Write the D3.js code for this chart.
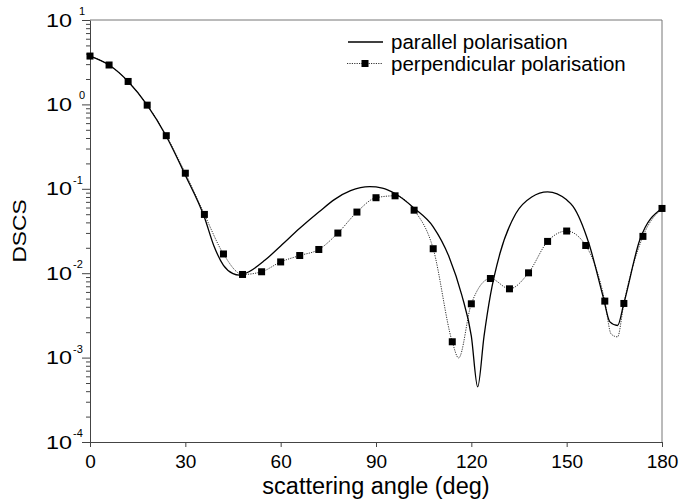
<!DOCTYPE html>
<html>
<head>
<meta charset="utf-8">
<script src="https://cdn.jsdelivr.net/npm/d3@7"></script>
<style>
  body { margin: 0; background: #fff; }
  text { font-family: "Liberation Sans", Arial, sans-serif; fill: #000; }
</style>
</head>
<body>
<div id="chart"></div>
<script>
// data
var parAngles = [0, 6, 12, 18, 24, 30, 36, 39, 42, 45, 47, 50, 55, 60, 66, 72, 77, 82, 88, 92, 96, 102, 108, 113, 117, 120, 122, 124, 126, 129, 134, 139, 144, 150, 152, 157, 161.5, 163.6, 166, 168, 173, 180];
var parValues = [3.74, 2.93, 1.87, 0.98, 0.42, 0.145, 0.046, 0.021, 0.0124, 0.0099, 0.0095, 0.0104, 0.0142, 0.021, 0.034, 0.053, 0.075, 0.095, 0.106, 0.102, 0.088, 0.059, 0.0355, 0.0156, 0.0055, 0.0018, 0.00045, 0.0018, 0.0055, 0.0171, 0.051, 0.080, 0.092, 0.074, 0.062, 0.0225, 0.0052, 0.00265, 0.0024, 0.0044, 0.0247, 0.0585];

var perpAngles = [0, 6, 12, 18, 24, 30, 36, 42, 48, 54, 60, 66, 72, 78, 84, 90, 96, 102, 108, 114, 116, 120, 126, 132, 138, 144, 150, 156, 162, 164, 166, 168, 174, 180];
var perpValues = [3.74, 2.93, 1.87, 0.98, 0.426, 0.153, 0.0497, 0.0169, 0.00966, 0.0104, 0.0136, 0.0162, 0.0191, 0.0299, 0.053, 0.0784, 0.0826, 0.0558, 0.0195, 0.00154, 0.00099, 0.00434, 0.00865, 0.00653, 0.0101, 0.0238, 0.0316, 0.0213, 0.00467, 0.0019, 0.00176, 0.00438, 0.0273, 0.0585];

var xTicks = [0, 30, 60, 90, 120, 150, 180];
var yExponents = [1, 0, -1, -2, -3, -4];
var seriesNames = ["parallel polarisation", "perpendicular polarisation"];

var svgWidth = 679;
var svgHeight = 502;
var margin = { top: 20, right: 17, bottom: 60, left: 90 };
var width = svgWidth - margin.left - margin.right;
var height = svgHeight - margin.top - margin.bottom;

var svg = d3.select("#chart").append("svg")
  .attr("width", svgWidth)
  .attr("height", svgHeight);

var g = svg.append("g")
  .attr("transform", `translate(${margin.left}, ${margin.top})`);

var xScale = d3.scaleLinear().domain([0, 180]).range([0, width]);
var yScale = d3.scaleLog().domain([1e-4, 1e1]).range([height, 0]);

var par = parAngles.map((a, i) => ({ a: a, v: parValues[i] }));
var perp = perpAngles.map((a, i) => ({ a: a, v: perpValues[i] }));

var line = d3.line()
  .x(d => xScale(d.a))
  .y(d => yScale(d.v))
  .curve(d3.curveMonotoneX);

// frame: top and right
g.append("line").attr("x1", 0).attr("x2", width).attr("y1", 0).attr("y2", 0)
  .attr("stroke", "#777").attr("stroke-width", 1);
g.append("line").attr("x1", width).attr("x2", width).attr("y1", 0).attr("y2", height)
  .attr("stroke", "#777").attr("stroke-width", 1);

// bottom axis
var xAxis = g.append("g")
  .attr("transform", `translate(0, ${height})`)
  .call(d3.axisBottom(xScale).tickValues(xTicks).tickSize(5).tickSizeOuter(0).tickPadding(8));
xAxis.selectAll("text").attr("font-size", 19).style("font-family", "Liberation Sans, Arial, sans-serif");

// left axis: major + minor ticks
var minor = [];
for (var k = -4; k < 1; k++) {
  for (var m = 2; m <= 9; m++) minor.push(m * Math.pow(10, k));
}
g.append("g")
  .call(d3.axisLeft(yScale).tickValues(yExponents.map(e => Math.pow(10, e))).tickSize(8).tickSizeOuter(0).tickFormat(""));
g.append("g")
  .call(d3.axisLeft(yScale).tickValues(minor).tickSize(4).tickSizeOuter(0).tickFormat(""))
  .select(".domain").remove();

g.selectAll(".domain, .tick line").attr("stroke", "#444");

// y tick labels 10^n
yExponents.forEach(function(e) {
  var ty = yScale(Math.pow(10, e));
  g.append("text")
    .attr("transform", `translate(-18, ${ty + 6.5}) scale(1.3,1)`)
    .attr("text-anchor", "end")
    .attr("font-size", 18)
    .text("10");
  g.append("text")
    .attr("x", e < 0 ? -17 : -11)
    .attr("y", ty - 5)
    .attr("font-size", 11)
    .text(e < 0 ? "-" + Math.abs(e) : e);
});

// curves
g.append("path")
  .datum(perp)
  .attr("d", line)
  .attr("fill", "none")
  .attr("stroke", "#333")
  .attr("stroke-width", 1)
  .attr("stroke-dasharray", "1.2,1.2");

g.append("path")
  .datum(par)
  .attr("d", line)
  .attr("fill", "none")
  .attr("stroke", "#000")
  .attr("stroke-width", 1.3);

g.selectAll("rect.mk")
  .data(perp.filter(d => d.a % 6 === 0))
  .enter()
  .append("rect")
  .attr("class", "mk")
  .attr("x", d => xScale(d.a) - 3.5)
  .attr("y", d => yScale(d.v) - 3.5)
  .attr("width", 7)
  .attr("height", 7)
  .attr("fill", "#000");

// axis titles
svg.append("text")
  .attr("x", margin.left + width / 2)
  .attr("y", 494)
  .attr("text-anchor", "middle")
  .attr("font-size", 23.5)
  .text("scattering angle (deg)");

svg.append("text")
  .attr("transform", `translate(26, ${margin.top + height / 2}) rotate(-90) scale(1.23,1)`)
  .attr("text-anchor", "middle")
  .attr("font-size", 18.5)
  .text("DSCS");

// legend
var legend = svg.append("g");
legend.append("line").attr("x1", 348).attr("x2", 383).attr("y1", 42).attr("y2", 42)
  .attr("stroke", "#000").attr("stroke-width", 1.3);
legend.append("text").attr("x", 391).attr("y", 48.5).attr("font-size", 20.5).text(seriesNames[0]);
legend.append("line").attr("x1", 347).attr("x2", 383).attr("y1", 63.5).attr("y2", 63.5)
  .attr("stroke", "#333").attr("stroke-width", 1).attr("stroke-dasharray", "1.2,1.2");
legend.append("rect").attr("x", 361.5).attr("y", 60).attr("width", 7).attr("height", 7).attr("fill", "#000");
legend.append("text").attr("x", 391).attr("y", 70.5).attr("font-size", 20.5).text(seriesNames[1]);
</script>
</body>
</html>
